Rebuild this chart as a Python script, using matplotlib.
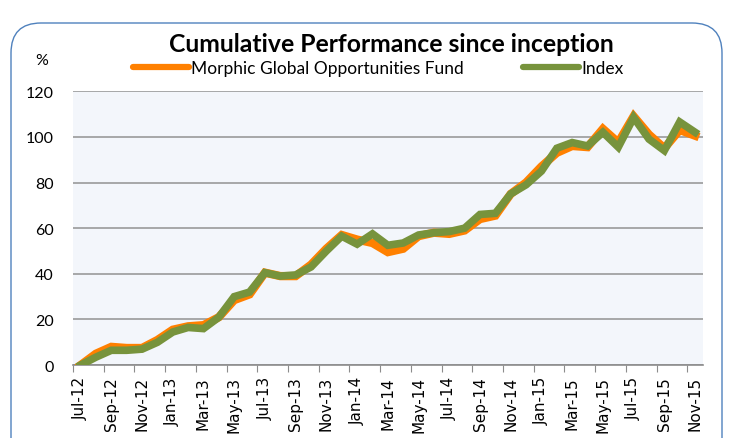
import numpy as np
import matplotlib.pyplot as plt
from matplotlib.patches import FancyBboxPatch

months = ['Jul-12', 'Aug-12', 'Sep-12', 'Oct-12', 'Nov-12', 'Dec-12',
          'Jan-13', 'Feb-13', 'Mar-13', 'Apr-13', 'May-13', 'Jun-13',
          'Jul-13', 'Aug-13', 'Sep-13', 'Oct-13', 'Nov-13', 'Dec-13',
          'Jan-14', 'Feb-14', 'Mar-14', 'Apr-14', 'May-14', 'Jun-14',
          'Jul-14', 'Aug-14', 'Sep-14', 'Oct-14', 'Nov-14', 'Dec-14',
          'Jan-15', 'Feb-15', 'Mar-15', 'Apr-15', 'May-15', 'Jun-15',
          'Jul-15', 'Aug-15', 'Sep-15', 'Oct-15', 'Nov-15']

fund = [0, 5, 8, 7.5, 7.5, 11, 15.5, 17, 17.5, 21, 28.5, 31,
        40.5, 39, 39, 44, 51, 57, 55, 53.5, 49.5, 51, 56.5, 58,
        57.5, 59, 64, 65.5, 75, 80, 87, 93, 96, 95.5, 103.5, 97.5,
        109, 101, 95, 103, 100.5]

index = [0, 3.5, 6.5, 6.5, 7, 10, 14.5, 16.5, 16, 21, 30, 32,
         40.5, 39, 39.5, 43, 50, 56.5, 53, 57.5, 52.5, 53.5, 57, 58,
         58.5, 60, 66, 66.5, 75, 79, 85, 95, 97.5, 96, 102, 95.5,
         108.5, 99, 94, 106.5, 102]

fund_name = 'Morphic Global Opportunities Fund'
index_name = 'Index'

plt.rcParams['font.family'] = ['Lato', 'DejaVu Sans']

fig = plt.figure(figsize=(7.29, 4.39), dpi=100, facecolor='white')

# rounded frame around the whole chart
frame = FancyBboxPatch((0.11, -0.3), 7.11, 4.45,
                       boxstyle='round,pad=0,rounding_size=0.3',
                       transform=fig.dpi_scale_trans, facecolor='none',
                       edgecolor='#4F81BD', linewidth=1.0)
fig.patches.append(frame)

ax = fig.add_axes([0.100, 0.166, 0.864, 0.624])
ax.set_facecolor('#F3F6FB')

x = np.arange(len(months))
ax.plot(x, fund, color='#FF8000', linewidth=6, solid_joinstyle='miter',
        label=fund_name, zorder=3)
ax.plot(x, index, color='#77933C', linewidth=5.5, solid_joinstyle='miter',
        label=index_name, zorder=4)

ax.set_xlim(-0.5, len(months) - 0.5)
ax.set_ylim(0, 120)
ax.set_yticks(range(0, 121, 20))
ax.yaxis.grid(True, color='#9A9A9A', linewidth=1.2)
ax.set_axisbelow(True)

# tick marks on category boundaries, labels on every other month
ax.set_xticks(np.arange(-0.5, len(months), 2))
ax.set_xticklabels([])
ax.set_xticks(x[::2], minor=True)
ax.set_xticklabels(months[::2], minor=True, rotation=90, fontsize=11,
                   family='DejaVu Sans')
ax.tick_params(axis='x', which='major', length=5, color='#8C8C8C')
ax.tick_params(axis='x', which='minor', length=0, pad=8)
ax.tick_params(axis='y', length=0, labelsize=11.5, pad=14)

for s in ['left', 'right', 'top']:
    ax.spines[s].set_visible(False)
ax.spines['bottom'].set_color('#8C8C8C')
ax.spines['bottom'].set_linewidth(1.2)

fig.text(0.537, 0.898, 'Cumulative Performance since inception',
         ha='center', va='center', fontsize=17.8, fontweight='bold')
fig.text(0.057, 0.862, '%', ha='center', va='center', fontsize=11.5)

leg = fig.legend(loc='center', bbox_to_anchor=(0.519, 0.843), ncol=2,
                 frameon=False, fontsize=12.5, handlelength=3.2,
                 handletextpad=0.15, columnspacing=3.4, borderaxespad=0)
for h in leg.get_lines():
    h.set_linewidth(4.5)
    h.set_solid_capstyle('round')

fig.savefig('out.png', dpi=100)
